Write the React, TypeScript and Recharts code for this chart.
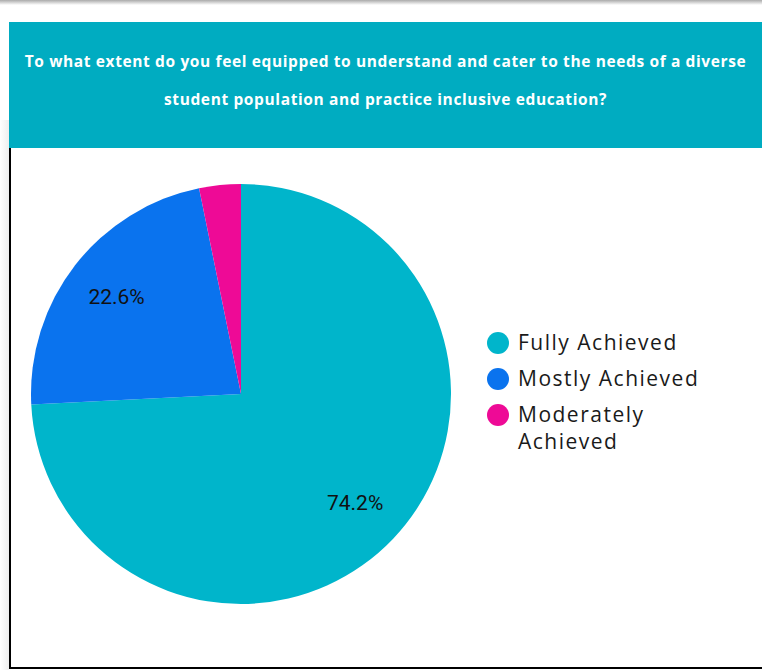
import React from "react";
import { PieChart, Pie, Cell } from "recharts";

const categories = ["Fully Achieved", "Mostly Achieved", "Moderately Achieved"];
const values = [74.2, 22.6, 3.2];
const colors = ["#00B5CB", "#0A73EE", "#EE0A96"];
const titleLines = [
  "To what extent do you feel equipped to understand and cater to the needs of a diverse",
  "student population and practice inclusive education?",
];

const data = categories.map((name, i) => ({ name, value: values[i] }));

const RAD = Math.PI / 180;
const renderLabel = (props: any) => {
  const { cx, cy, midAngle, outerRadius, percent } = props;
  if (percent < 0.05) return null;
  const r = outerRadius * 0.75;
  const x = cx + r * Math.cos(-midAngle * RAD);
  const y = cy + r * Math.sin(-midAngle * RAD);
  return (
    <text
      x={x}
      y={y}
      fill="#111"
      textAnchor="middle"
      dominantBaseline="central"
      fontFamily="Roboto, Arial, sans-serif"
      fontSize={21}
    >
      {(percent * 100).toFixed(1) + "%"}
    </text>
  );
};

export default function App() {
  return (
    <div style={{ position: "absolute", left: 0, top: 0, width: 762, height: 670, background: "#fff", overflow: "hidden" }}>
      <div style={{ position: "absolute", left: 0, top: 0, width: 762, height: 5, background: "linear-gradient(#aaa, #fff)" }} />
      <div style={{ position: "absolute", left: 0, top: 120, width: 9, height: 550, background: "linear-gradient(90deg, #fff, #eee)" }} />
      <div
        style={{
          position: "absolute",
          left: 9,
          top: 22,
          width: 753,
          height: 126,
          background: "#00ACC1",
          color: "#fff",
          fontFamily: "'Open Sans', sans-serif",
          fontWeight: 700,
          fontSize: 15.5,
          textAlign: "center",
        }}
      >
        <div style={{ position: "absolute", left: 0, width: 753, top: 28, lineHeight: "22px", letterSpacing: 0.62 }}>{titleLines[0]}</div>
        <div style={{ position: "absolute", left: 0, width: 753, top: 66, lineHeight: "22px", letterSpacing: 0.62 }}>{titleLines[1]}</div>
      </div>
      <div
        style={{
          position: "absolute",
          left: 9,
          top: 148,
          width: 753,
          height: 521,
          borderLeft: "2px solid #000",
          borderBottom: "2px solid #000",
          boxSizing: "border-box",
        }}
      >
        <PieChart width={751} height={519} margin={{ top: 0, right: 0, bottom: 0, left: 0 }}>
          <Pie
            data={data}
            dataKey="value"
            nameKey="name"
            cx={230}
            cy={246}
            outerRadius={210}
            startAngle={90}
            endAngle={-270}
            stroke="none"
            label={renderLabel}
            labelLine={false}
            isAnimationActive={false}
          >
            {data.map((d, i) => (
              <Cell key={d.name} fill={colors[i]} />
            ))}
          </Pie>
        </PieChart>
        <div
          style={{
            position: "absolute",
            left: 476,
            top: 181,
            width: 260,
            fontFamily: "'Open Sans', sans-serif",
            fontSize: 21,
            color: "#1a1a1a",
          }}
        >
          {categories.map((name, i) => (
            <div key={name} style={{ display: "flex", alignItems: "flex-start", marginBottom: 9 }}>
              <span
                style={{
                  display: "inline-block",
                  width: 22,
                  height: 22,
                  borderRadius: 11,
                  background: colors[i],
                  marginTop: 3,
                  marginRight: 9,
                  flexShrink: 0,
                }}
              />
              <span style={{ width: 200, lineHeight: "27px", letterSpacing: 1.5 }}>{name}</span>
            </div>
          ))}
        </div>
      </div>
    </div>
  );
}
